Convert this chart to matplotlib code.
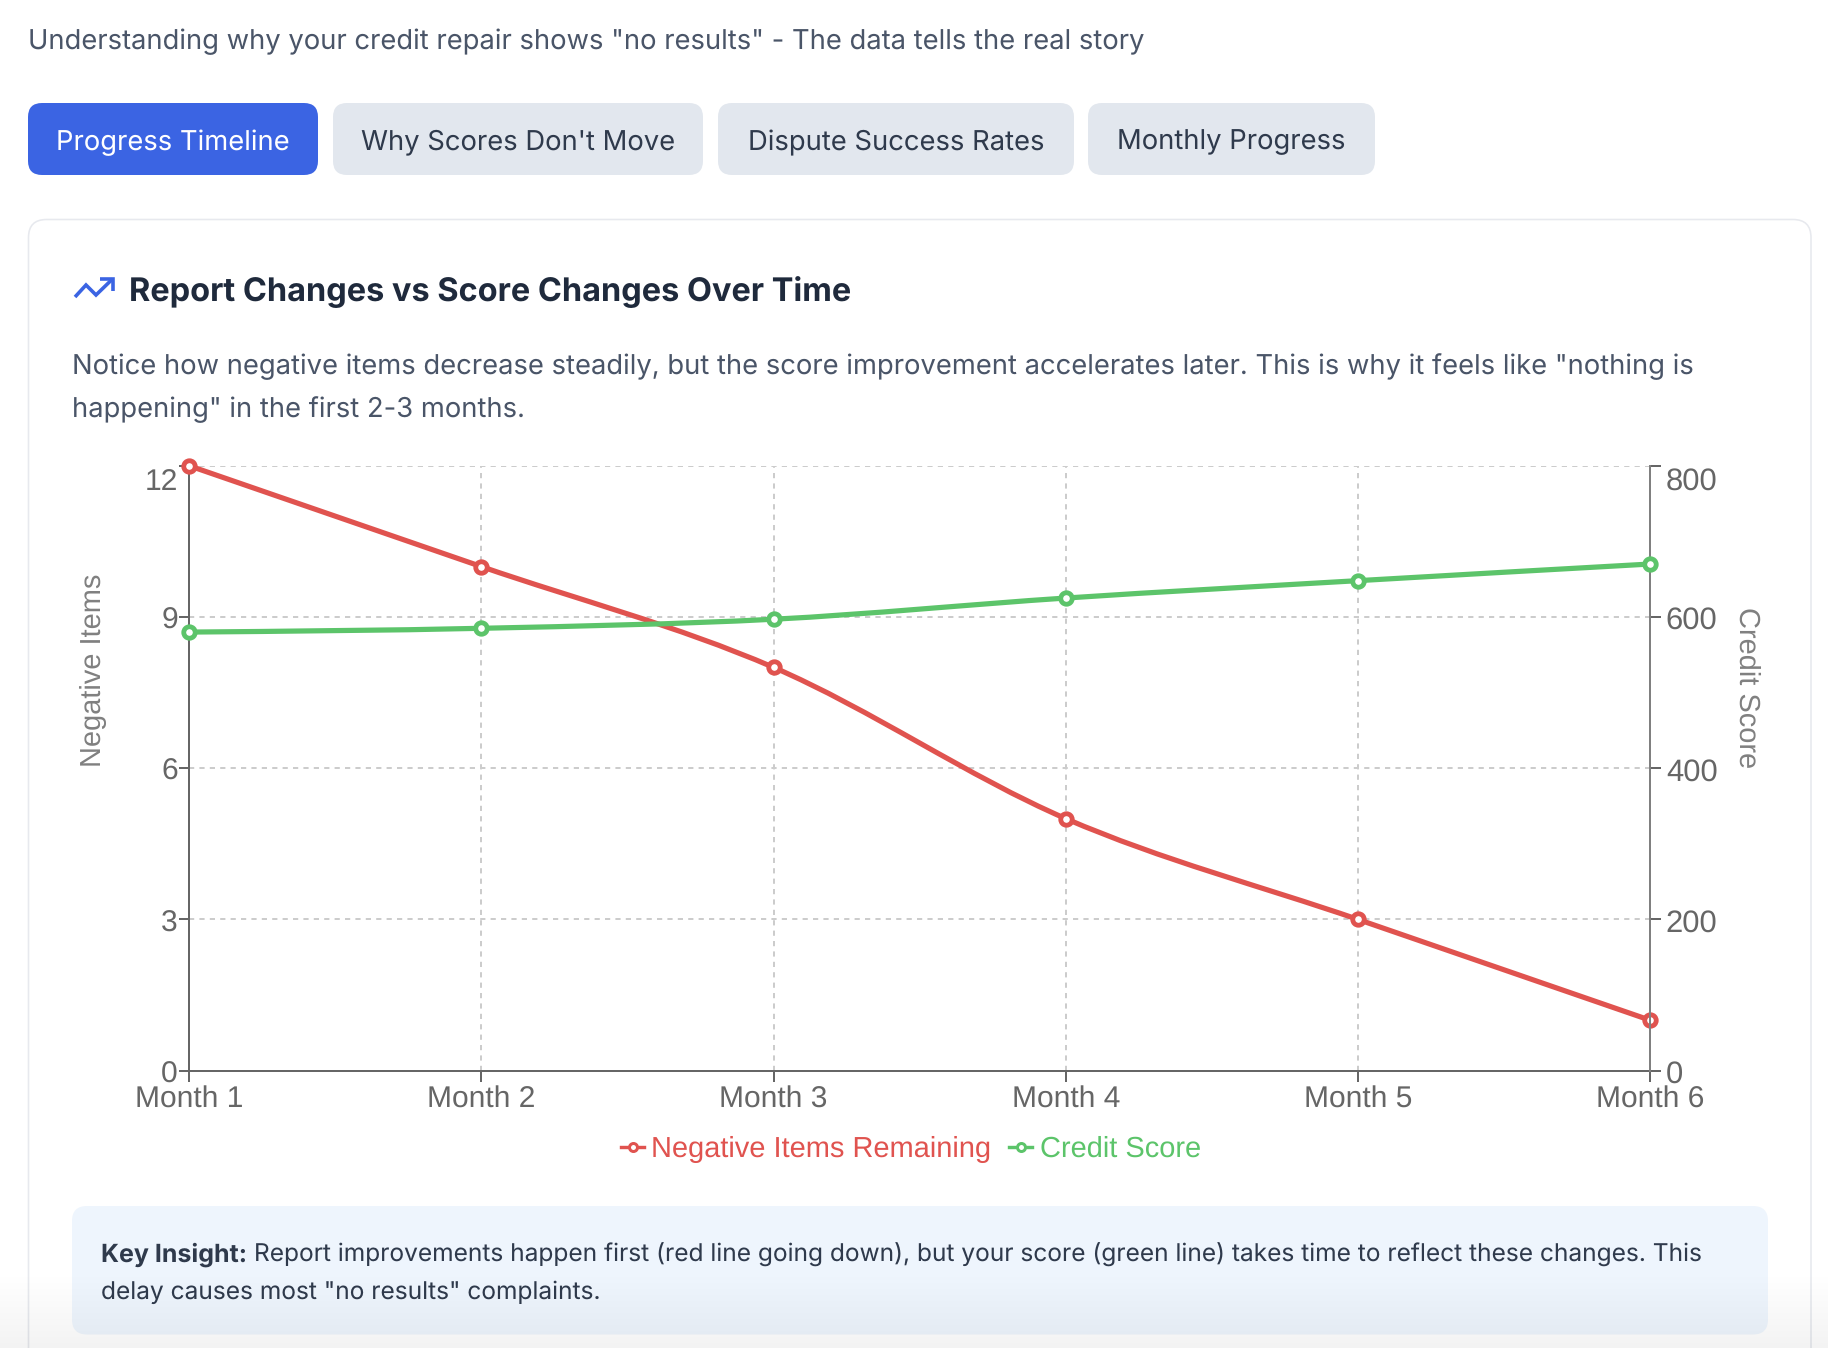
import numpy as np
import matplotlib
matplotlib.use("Agg")
import matplotlib.pyplot as plt
from matplotlib.lines import Line2D
from matplotlib.patches import FancyBboxPatch, PathPatch
from matplotlib.path import Path
from matplotlib.transforms import ScaledTranslation

W, H = 1828, 1348
DPI = 100

months = ["Month 1", "Month 2", "Month 3", "Month 4", "Month 5", "Month 6"]
negative_items = [12, 10, 8, 5, 3, 1]
credit_score = [580, 585, 597, 625, 648, 670]
left_ticks = [0, 3, 6, 9, 12]
right_ticks = [0, 200, 400, 600, 800]
tabs = ["Progress Timeline", "Why Scores Don't Move", "Dispute Success Rates", "Monthly Progress"]
tab_edges = [(28, 318), (333, 703), (718, 1074), (1088, 1375)]

RED = "#e0534f"
GREEN = "#5cc46a"
AXIS = "#666666"
UI_FONT = "Inter"
CHART_FONT = "Liberation Sans"

plt.rcParams["text.hinting"] = "none"
plt.rcParams["text.hinting_factor"] = 1


def px(size):
    return size * 72 / DPI


def monotone_path(xs, ys):
    # monotone cubic through the points, same idea as d3's curveMonotoneX
    n = len(xs)
    t = [0.0] * n
    for i in range(1, n - 1):
        h0 = xs[i] - xs[i - 1]
        h1 = xs[i + 1] - xs[i]
        s0 = (ys[i] - ys[i - 1]) / h0
        s1 = (ys[i + 1] - ys[i]) / h1
        p = (s0 * h1 + s1 * h0) / (h0 + h1)
        t[i] = (np.sign(s0) + np.sign(s1)) * min(abs(s0), abs(s1), 0.5 * abs(p))
    t[0] = (3 * (ys[1] - ys[0]) / (xs[1] - xs[0]) - t[1]) / 2
    t[-1] = (3 * (ys[-1] - ys[-2]) / (xs[-1] - xs[-2]) - t[-2]) / 2

    verts = [(xs[0], ys[0])]
    codes = [Path.MOVETO]
    for i in range(n - 1):
        dx = (xs[i + 1] - xs[i]) / 3
        verts += [(xs[i] + dx, ys[i] + dx * t[i]),
                  (xs[i + 1] - dx, ys[i + 1] - dx * t[i + 1]),
                  (xs[i + 1], ys[i + 1])]
        codes += [Path.CURVE4] * 3
    return Path(verts, codes)


def draw_series(axis, xs, ys, color):
    axis.add_patch(PathPatch(monotone_path(xs, ys), fill=False, edgecolor=color,
                             lw=px(5.2), clip_on=False, zorder=3))
    axis.plot(xs, ys, ls="none", marker="o", ms=px(11.5), mew=px(4.8), mec=color,
              mfc="white", clip_on=False, zorder=4)


def rounded(axis, x0, y0, x1, y1, radius, **kw):
    axis.add_patch(FancyBboxPatch((x0, y0), x1 - x0, y1 - y0,
                                  boxstyle=f"round,pad=0,rounding_size={radius}", **kw))


fig = plt.figure(figsize=(W / DPI, H / DPI), dpi=DPI, facecolor="white")

# page layer in pixel coordinates
page = fig.add_axes([0, 0, 1, 1], zorder=0)
page.set_xlim(0, W)
page.set_ylim(H, 0)
page.axis("off")

page.text(28, 41.5, 'Understanding why your credit repair shows "no results" - The data tells the real story',
          family=UI_FONT, fontsize=px(27.4), color="#4a5568", va="center")

for i, (label, (x0, x1)) in enumerate(zip(tabs, tab_edges)):
    active = i == 0
    rounded(page, x0, 103, x1, 175, 14, fc="#3b64e3" if active else "#e2e7ee", ec="none")
    page.text((x0 + x1) / 2, 142.5, label, family=UI_FONT, fontsize=px(27.4),
              color="white" if active else "#2f3a4c", ha="center", va="center")

rounded(page, 28.5, 219.5, 1811, 1500, 18, fc="white", ec="#e7e9ee", lw=px(1.6))

# trending-up icon
icon = dict(color="#3b64e3", lw=px(3.6), solid_joinstyle="miter", solid_capstyle="butt")
page.plot([112.5, 96, 86, 75], [279, 295, 285, 297], **icon)
page.plot([100, 112.5, 112.5], [279, 279, 291], **icon)

page.text(129, 292, "Report Changes vs Score Changes Over Time", family=UI_FONT,
          fontsize=px(32.5), fontweight="bold", color="#1f2a3c", va="center")
page.text(72, 366.5, 'Notice how negative items decrease steadily, but the score improvement accelerates later. '
                     'This is why it feels like "nothing is',
          family=UI_FONT, fontsize=px(27.4), color="#4a5568", va="center")
page.text(72, 409.5, 'happening" in the first 2-3 months.', family=UI_FONT, fontsize=px(27.4),
          color="#4a5568", va="center")

rounded(page, 72, 1206, 1768, 1334.5, 15, fc="#eef5fd", ec="none")
page.text(101, 1255, "Key Insight:", family=UI_FONT, fontsize=px(25), fontweight="bold",
          color="#2f3a4c", va="center")
page.text(254, 1255, 'Report improvements happen first (red line going down), but your score (green line) '
                     'takes time to reflect these changes. This',
          family=UI_FONT, fontsize=px(24.5), color="#2f3a4c", va="center")
page.text(101, 1292, 'delay causes most "no results" complaints.', family=UI_FONT, fontsize=px(24.5),
          color="#2f3a4c", va="center")

# chart
PLOT_L, PLOT_R, PLOT_T, PLOT_B = 189, 1650.3, 465.7, 1070.7
ax = fig.add_axes([PLOT_L / W, 1 - PLOT_B / H, (PLOT_R - PLOT_L) / W, (PLOT_B - PLOT_T) / H], zorder=1)
ax.patch.set_alpha(0)
x = list(range(len(months)))
ax.set_xlim(0, len(months) - 1)
ax.set_ylim(0, 12)
ax.set_xticks(x, months)
ax.set_yticks(left_ticks)
ax.grid(True, color="#cccccc", lw=px(2), dashes=(2.6, 2.6))
ax.set_axisbelow(True)
ax.spines["top"].set_visible(False)
ax.spines["right"].set_visible(False)
for side in ["left", "bottom"]:
    ax.spines[side].set_color(AXIS)
    ax.spines[side].set_linewidth(px(2))
ax.tick_params(axis="x", length=px(10.5), width=px(2), color=AXIS, labelcolor=AXIS,
               labelsize=px(29.8), pad=px(5))
ax.tick_params(axis="y", length=px(10.5), width=px(2), color=AXIS, labelcolor=AXIS,
               labelsize=px(30.5), pad=px(0.5))
ax.set_ylabel("Negative Items", fontsize=px(29.4), color="#808080", family=CHART_FONT)
ax.yaxis.set_label_coords(107 / W, 1 - 670 / H, transform=fig.transFigure)

ax2 = ax.twinx()
ax2.set_zorder(2)
ax2.patch.set_alpha(0)
ax2.set_ylim(0, 800)
ax2.set_yticks(right_ticks)
for side in ["left", "top", "bottom"]:
    ax2.spines[side].set_visible(False)
ax2.spines["right"].set_color("#808080")
ax2.spines["right"].set_linewidth(px(2))
ax2.tick_params(axis="y", length=px(10.5), width=px(2), color=AXIS, labelcolor=AXIS,
                labelsize=px(31), pad=px(5))
ax2.set_ylabel("Credit Score", fontsize=px(29.2), color="#808080", family=CHART_FONT,
               rotation=270, va="center")
ax2.yaxis.set_label_coords(1747 / W, 1 - 688 / H, transform=fig.transFigure)

for axis in (ax, ax2):
    for label in axis.get_xticklabels() + axis.get_yticklabels():
        label.set_fontfamily(CHART_FONT)

# value labels run a pixel low, the top ones sit further below their ticks
low_shift = ScaledTranslation(0, -1 / DPI, fig.dpi_scale_trans)
top_shift = ScaledTranslation(0, -13 / DPI, fig.dpi_scale_trans)
for axis in (ax, ax2):
    labels = axis.get_yticklabels()
    for label in labels[:-1]:
        label.set_transform(label.get_transform() + low_shift)
    labels[-1].set_transform(labels[-1].get_transform() + top_shift)

draw_series(ax, x, negative_items, RED)
draw_series(ax2, x, credit_score, GREEN)

handles = [Line2D([], [], color=c, lw=px(3.4), marker="o", ms=px(8), mew=px(3), mec=c, mfc="white")
           for c in (RED, GREEN)]
ax2.legend(handles, ["Negative Items Remaining", "Credit Score"], ncols=2, frameon=False,
           loc="center", bbox_to_anchor=(911 / W, 1 - 1149.5 / H), bbox_transform=fig.transFigure,
           prop={"family": CHART_FONT, "size": px(28.7)}, labelcolor="linecolor",
           handlelength=0.8, handletextpad=0.26, columnspacing=0.62)

# soft grey fade along the bottom of the page
fade = fig.add_axes([0, 0, 1, 1], zorder=5)
fade.axis("off")
shade = np.zeros((H, 2, 4))
shade[1270:, :, 3] = np.linspace(0, 0.05, H - 1270)[:, None]
fade.imshow(shade, extent=(0, W, H, 0), aspect="auto", interpolation="nearest")

fig.savefig("out.png", dpi=DPI)
